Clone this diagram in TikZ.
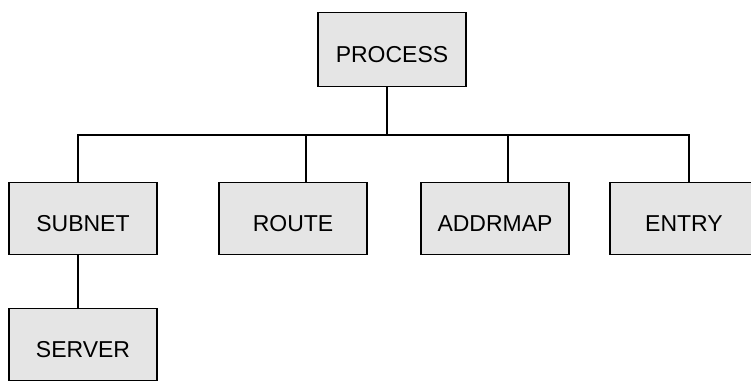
\documentclass[tikz,border=0pt]{standalone}
\usepackage{fontspec}
\setmainfont{Liberation Sans}
\tikzset{
  box/.style={draw, fill=black!10, line width=1.8pt, minimum width=148pt, minimum height=72pt, inner sep=0pt, text height=26.5pt, text depth=0pt, font=\fontsize{23}{27}\selectfont},
  link/.style={line width=1.8pt}
}
\begin{document}
\begin{tikzpicture}[x=1pt,y=-1pt]
                \useasboundingbox (0,0) rectangle (751,381);

                \node[box, minimum height=74pt] (process) at (392,49.5) {PROCESS};
                \node[box] (subnet) at (83,218.5) {SUBNET};
                \node[box] (route) at (293,218.5) {ROUTE};
                \node[box] (addrmap) at (495,218.5) {ADDRMAP};
                \node[box] (entry) at (684,218.5) {ENTRY};
                \node[box] (server) at (83,344.5) {SERVER};

                \coordinate (bus) at (387,135);

                \draw[link] ([xshift=-5]process.south) -- ([xshift=-5]process.south |- bus);
                \draw[link] ([xshift=-5]subnet.north) |- (bus) -| ([xshift=5]entry.north);
                \draw[link] ([xshift=13]route.north) -- ([xshift=13]route.north |- bus);
                \draw[link] ([xshift=13]addrmap.north) -- ([xshift=13]addrmap.north |- bus);
                \draw[link] ([xshift=-5]subnet.south) -- ([xshift=-5]server.north);
\end{tikzpicture}
\end{document}
